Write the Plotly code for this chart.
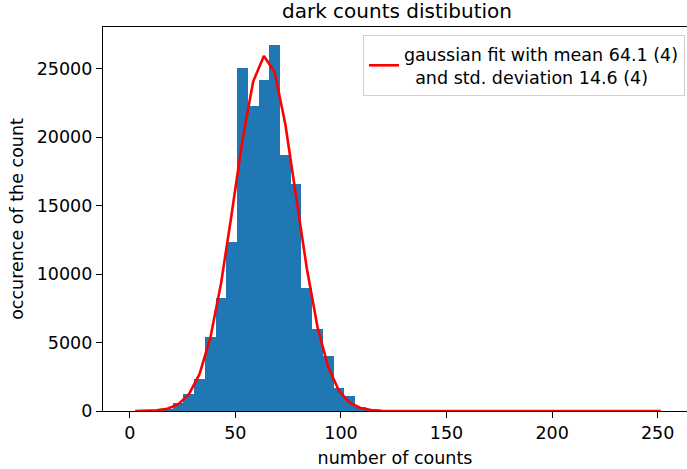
import plotly.graph_objects as go

# ---- data ----
bin_start = 0.0
bin_width = 5.08
hist_counts = [0, 0, 20, 120, 560, 1210, 2320, 5400, 8280, 12350,
               25070, 22240, 24140, 26700, 18720, 16580, 9010, 5980, 4010, 1660,
               1076, 290, 60, 12, 3, 0, 0, 0, 0, 0,
               0, 0, 0, 0, 0, 0, 0, 0, 0, 0,
               0, 0, 0, 0, 0, 0, 0, 0, 0, 0]
fit_values = [4, 15, 53, 169, 480, 1208, 2691, 5314, 9294, 14402,
              19776, 24054, 25923, 24752, 20938, 15694, 10420, 6131, 3196, 1476,
              604, 219, 70, 20, 5, 1, 0, 0, 0, 0,
              0, 0, 0, 0, 0, 0, 0, 0, 0, 0,
              0, 0, 0, 0, 0, 0, 0, 0, 0, 0]
x_ticks = [0, 50, 100, 150, 200, 250]
y_ticks = [0, 5000, 10000, 15000, 20000, 25000]
title_text = "dark counts distibution"
x_label = "number of counts"
y_label = "occurence of the count"
legend_label = "gaussian fit with mean 64.1 (4)<br>\u00a0\u00a0and std. deviation 14.6 (4)"

bin_centers = [bin_start + bin_width * (i + 0.5) for i in range(len(hist_counts))]

FONT = "DejaVu Sans"
fig = go.Figure()
fig.add_trace(go.Bar(
    x=bin_centers, y=hist_counts, width=bin_width,
    marker=dict(color="#1f77b4", line=dict(width=0)),
    showlegend=False, hoverinfo="skip",
))
fig.add_trace(go.Scatter(
    x=bin_centers, y=fit_values, mode="lines",
    line=dict(color="#ff0000", width=2.6),
    name=legend_label, showlegend=True,
))

fig.update_layout(
    width=687, height=469,
    margin=dict(l=103, r=0, t=27, b=58, pad=0),
    paper_bgcolor="white", plot_bgcolor="white",
    font=dict(family=FONT, size=17.5, color="black"),
    bargap=0,
    title=dict(text=title_text, x=397 / 687, xanchor="center", xref="container",
               y=1 - 11 / 469, yref="container", yanchor="middle",
               font=dict(family=FONT, size=20, color="black")),
    legend=dict(x=0.9966, xanchor="right", y=0.979, yanchor="top",
                bgcolor="white", bordercolor="#d0d0d0", borderwidth=1,
                font=dict(family=FONT, size=17.5, color="black"),
                valign="middle"),
    xaxis=dict(range=[-12.7, 263.9], tickvals=x_ticks, ticks="outside",
               ticklen=6, tickwidth=1.4, tickcolor="black",
               showline=True, linecolor="black", linewidth=1.4, mirror=True,
               showgrid=False, zeroline=False,
               title=dict(text=x_label, standoff=9,
                          font=dict(family=FONT, size=17.5, color="black"))),
    yaxis=dict(range=[0, 28040], tickvals=y_ticks, tickformat="d", ticks="outside",
               ticklen=6, tickwidth=1.4, tickcolor="black",
               showline=True, linecolor="black", linewidth=1.4, mirror=False,
               showgrid=False, zeroline=False,
               title=dict(text=y_label, standoff=8,
                          font=dict(family=FONT, size=17.5, color="black"))),
)

fig.write_html("out.html", config={"displayModeBar": False},
               post_script="document.body.style.margin='0';document.body.style.padding='0';")
